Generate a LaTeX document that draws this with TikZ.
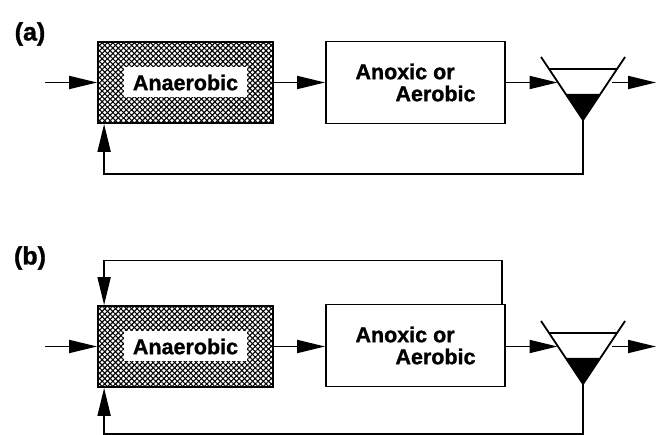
\documentclass[tikz,border=0pt]{standalone}
\usepackage{fontspec}
\setmainfont{Liberation Sans}[BoldFeatures={FakeBold=1.2}]
\usepackage{tikz}
\usetikzlibrary{arrows.meta, patterns.meta, positioning}

\begin{document}
\begin{tikzpicture}[x=1pt, y=-1pt, line width=1.8pt,
    font=\bfseries\fontsize{21.5}{22}\selectfont,
    >={Triangle[length=28pt, width=13pt]},
    tank/.style={draw, minimum width=179pt, minimum height=82pt, align=left, inner sep=0pt},
    hatchbox/.style={draw, minimum width=175pt, minimum height=81pt,
        preaction={pattern={Lines[angle=45, distance=3.8pt, line width=1.1pt]}},
        preaction={pattern={Lines[angle=-45, distance=3.8pt, line width=1.1pt]}}},
    hatchlabel/.style={fill=white, inner xsep=9pt, inner ysep=0pt, minimum height=30pt},
    panel/.style={font=\bfseries\fontsize{25}{25}\selectfont},
    settler/.pic={
        \coordinate (-apex) at (0,0);
        \coordinate (-in) at (-25.5,-37.5);
        \coordinate (-out) at (29,-37.5);
        \draw (-42,-63) -- (0,0) -- (42,-63);
        \draw (-34,-51) -- (34,-51);
        \fill (-17.3,-26) -- (17.3,-26) -- (0,0) -- cycle;
    }]
    \useasboundingbox (0,0) rectangle (656,435);

    % (a)
    \node[panel] (labA) at (30,34) {(a)};
    \node[hatchbox] (anaA) at (185.5,82.5) {};
    \node[hatchlabel] (anaA-txt) at (anaA) {Anaerobic};
    \node[tank] (anoxA) at (415.5,82.5) {Anoxic or\\\hspace*{40pt}Aerobic};
    \pic (setA) at (583,120) {settler};
    \coordinate (inA) at (45,82.5);
    \coordinate (outA) at (656,82.5);

    \draw[->] (inA) -- (anaA);
    \draw[->] (anaA) -- (anoxA);
    \draw[->] (anoxA) -- (setA-in);
    \draw[->] (setA-out) -- (outA);
    \draw[->] (setA-apex) -- ++(0,54) -| ([xshift=7pt]anaA.south west);

    % (b)
    \begin{scope}[shift={(0,264)}]
        \node[panel] (labB) at (30,-6) {(b)};
        \node[hatchbox] (anaB) at (185.5,82.5) {};
        \node[hatchlabel] (anaB-txt) at (anaB) {Anaerobic};
        \node[tank] (anoxB) at (415.5,81.5) {Anoxic or\\\hspace*{40pt}Aerobic};
        \pic (setB) at (583,120) {settler};
        \coordinate (inB) at (45,82.5);
        \coordinate (outB) at (656,82.5);

        \draw[->] (inB) -- (anaB);
        \draw[->] (anaB) -- (anoxB.west |- anaB);
        \draw[->] (anoxB.east |- anaB) -- (setB-in);
        \draw[->] (setB-out) -- (outB);
        \draw[->] ([xshift=-4pt]anoxB.north east) -- ++(0,-43) -| ([xshift=7pt]anaB.north west);
        \draw[->] (setB-apex) -- ++(0,50) -| ([xshift=7pt]anaB.south west);
    \end{scope}
\end{tikzpicture}
\end{document}
